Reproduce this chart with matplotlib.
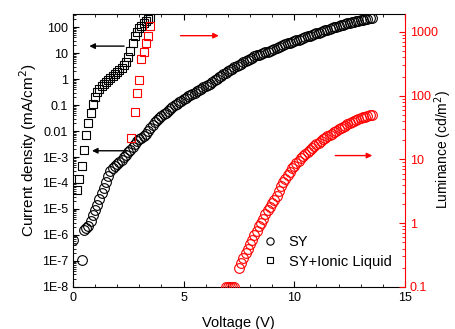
import numpy as np
import matplotlib.pyplot as plt
from matplotlib.ticker import LogLocator, MultipleLocator, NullFormatter

plt.rcParams['font.family'] = ['Liberation Sans', 'DejaVu Sans']

# SY current density (log10 of mA/cm2), sweep starts with two odd points
sy_v_start = [0.0, 0.4]
sy_logj_start = [-6.19, -6.96]
# regular sweep from 0.5 V in 0.1 V steps
sy_logj = [
    -5.80, -5.72, -5.66, -5.45, -5.25,
    -5.05, -4.85, -4.62, -4.40, -4.18, -3.97, -3.75, -3.55, -3.42, -3.33,
    -3.26, -3.18, -3.10, -3.01, -2.92, -2.82, -2.72, -2.60, -2.48, -2.38,
    -2.32, -2.26, -2.20, -2.10, -1.98, -1.87, -1.76, -1.66, -1.58, -1.50,
    -1.43, -1.36, -1.29, -1.22, -1.15, -1.08, -1.01, -0.95, -0.89, -0.83,
    -0.78, -0.73, -0.67, -0.62, -0.57, -0.52, -0.47, -0.42, -0.37, -0.32,
    -0.27, -0.22, -0.17, -0.11, -0.05, 0.01, 0.07, 0.13, 0.19, 0.25,
    0.30, 0.35, 0.40, 0.45, 0.50, 0.55, 0.60, 0.65, 0.70, 0.75,
    0.79, 0.83, 0.87, 0.91, 0.94, 0.97, 1.00, 1.03, 1.06, 1.09,
    1.12, 1.15, 1.19, 1.23, 1.27, 1.31, 1.34, 1.37, 1.40, 1.43,
    1.46, 1.49, 1.52, 1.55, 1.58, 1.61, 1.64, 1.67, 1.70, 1.73,
    1.76, 1.79, 1.82, 1.85, 1.88, 1.90, 1.93, 1.96, 1.99, 2.02,
    2.04, 2.07, 2.10, 2.12, 2.15, 2.17, 2.19, 2.21, 2.23, 2.25,
    2.27, 2.29, 2.31, 2.32, 2.34, 2.35,
]

# SY luminance (log10 cd/m2): 6.9-7.3 V sit on the bottom of the axis
sy_lum_v_low = [6.9, 7.0, 7.1, 7.2, 7.3]
sy_lum_low = [0.1, 0.1, 0.1, 0.1, 0.1]
# from 7.5 V in 0.1 V steps
sy_loglum = [
    -0.71, -0.62, -0.54, -0.47, -0.40,
    -0.33, -0.26, -0.19, -0.12, -0.05, 0.01, 0.07, 0.14, 0.20, 0.26,
    0.31, 0.36, 0.42, 0.50, 0.58, 0.64, 0.70, 0.76, 0.81, 0.86,
    0.90, 0.94, 0.98, 1.02, 1.05, 1.09, 1.12, 1.15, 1.18, 1.21,
    1.24, 1.26, 1.29, 1.32, 1.34, 1.36, 1.38, 1.40, 1.43, 1.45,
    1.47, 1.49, 1.51, 1.53, 1.55, 1.57, 1.58, 1.60, 1.62, 1.63,
    1.65, 1.66, 1.67, 1.68, 1.69, 1.70,
]

# SY + ionic liquid
il_v = [0.2, 0.3, 0.4, 0.5, 0.6, 0.7, 0.8, 0.9, 1.0, 1.1, 1.2, 1.3, 1.4, 1.5,
        1.6, 1.7, 1.8, 1.9, 2.0, 2.1, 2.2, 2.3, 2.4, 2.5, 2.6, 2.7, 2.8, 2.9,
        3.0, 3.1, 3.2, 3.3, 3.4, 3.5]
il_logj = [-4.27, -3.85, -3.33, -2.73, -2.17, -1.70, -1.32, -0.95, -0.68, -0.50,
           -0.38, -0.28, -0.19, -0.11, -0.04, 0.03, 0.10, 0.18, 0.26, 0.34,
           0.44, 0.54, 0.66, 0.85, 1.08, 1.38, 1.65, 1.82, 1.95, 2.06,
           2.16, 2.25, 2.31, 2.37]
il_lum_v = [2.65, 2.8, 2.9, 3.0, 3.1, 3.2, 3.3, 3.4, 3.5]
il_loglum = [1.33, 1.75, 2.04, 2.24, 2.57, 2.69, 2.83, 2.94, 3.09]

left_ticks = [1e-8, 1e-7, 1e-6, 1e-5, 1e-4, 1e-3, 1e-2, 1e-1, 1, 10, 100]
left_labels = ['1E-8', '1E-7', '1E-6', '1E-5', '1E-4', '1E-3', '0.01', '0.1', '1', '10', '100']
right_ticks = [0.1, 1, 10, 100, 1000]
right_labels = ['0.1', '1', '10', '100', '1000']

sy_v = np.concatenate([sy_v_start, 0.5 + 0.1 * np.arange(len(sy_logj))])
sy_j = 10 ** np.concatenate([sy_logj_start, sy_logj])
sy_lum_v = np.concatenate([sy_lum_v_low, 7.5 + 0.1 * np.arange(len(sy_loglum))])
sy_lum = np.concatenate([sy_lum_low, 10 ** np.array(sy_loglum)])

fig = plt.figure(figsize=(4.55, 3.29), dpi=100)
ax = fig.add_axes([0.160, 0.128, 0.730, 0.829])
ax2 = ax.twinx()

ms = 7
ax.plot(sy_v, sy_j, 'o', mfc='none', mec='black', ms=ms, mew=0.8, label='SY')
ax.plot(il_v, 10 ** np.array(il_logj), 's', mfc='none', mec='black', ms=6.3, mew=0.8,
        label='SY+Ionic Liquid')
ax2.plot(sy_lum_v, sy_lum, 'o', mfc='none', mec='red', ms=ms, mew=0.8)
ax2.plot(il_lum_v, 10 ** np.array(il_loglum), 's', mfc='none', mec='red', ms=6.3, mew=0.8)

ax.set_xlim(0, 15)
ax.set_yscale('log')
ax.set_ylim(1e-8, 10 ** 2.5)
ax2.set_yscale('log')
ax2.set_ylim(0.1, 10 ** 3.28)

ax.set_xticks([0, 5, 10, 15])
ax.xaxis.set_minor_locator(MultipleLocator(1))
ax.set_yticks(left_ticks, left_labels)
ax.yaxis.set_minor_locator(LogLocator(base=10, subs=np.arange(2, 10), numticks=30))
ax.yaxis.set_minor_formatter(NullFormatter())
ax2.set_yticks(right_ticks, right_labels)
ax2.yaxis.set_minor_locator(LogLocator(base=10, subs=np.arange(2, 10), numticks=30))
ax2.yaxis.set_minor_formatter(NullFormatter())

ax.tick_params(which='both', direction='in', top=True, right=False, labelsize=9)
ax.tick_params(which='major', length=4, width=0.8)
ax.tick_params(which='minor', length=2, width=0.6)
ax2.tick_params(which='both', direction='in', colors='red', labelsize=9)
ax2.tick_params(which='major', length=4, width=0.8)
ax2.tick_params(which='minor', length=2, width=0.6)
ax.spines['right'].set_visible(False)
ax2.spines['right'].set_color('red')
for s in ['left', 'top', 'bottom']:
    ax2.spines[s].set_visible(False)

ax.set_xlabel('Voltage (V)', fontsize=10.5, labelpad=9)
ax.set_ylabel('Current density (mA/cm$^2$)', fontsize=11, labelpad=2)
fig.text(443 / 455, 0.545, 'Luminance (cd/m$^2$)', fontsize=10, rotation=90,
         ha='center', va='center')

arrow_k = dict(arrowstyle='-|>', color='black', lw=1.0, mutation_scale=8)
arrow_r = dict(arrowstyle='-|>', color='red', lw=1.0, mutation_scale=8)
ax.annotate('', xy=(0.62, 18.6), xytext=(2.44, 18.6), arrowprops=arrow_k)
ax.annotate('', xy=(0.74, 1.74e-3), xytext=(2.58, 1.74e-3), arrowprops=arrow_k)
ax2.annotate('', xy=(6.72, 875), xytext=(4.74, 875), arrowprops=arrow_r)
ax2.annotate('', xy=(13.65, 11.5), xytext=(11.73, 11.5), arrowprops=arrow_r)

ax.legend(loc='center left', bbox_to_anchor=(0.571, 0.128), frameon=False,
          fontsize=10.5, markerscale=0.75, handlelength=1.0, handletextpad=0.8,
          borderpad=0, borderaxespad=0, labelspacing=0.35)

fig.savefig('out.png', dpi=100)
